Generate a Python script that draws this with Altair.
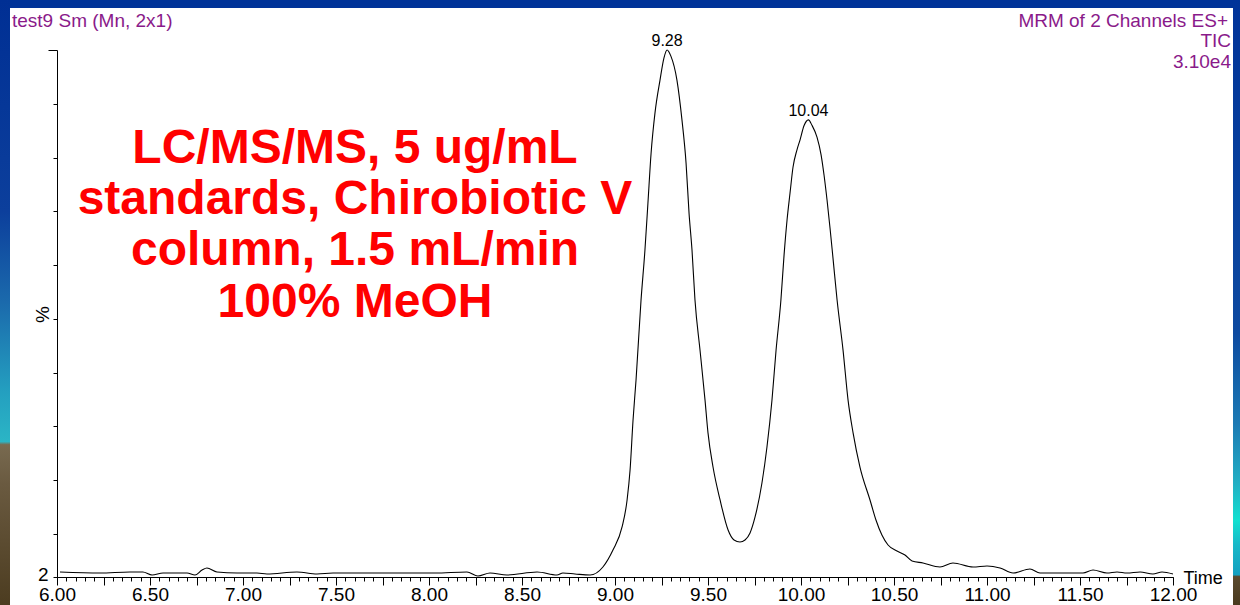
import altair as alt
import pandas as pd

# ---- chromatogram trace (retention time in min, relative intensity in %) ----
time_min = [
    6.016, 6.231, 6.392, 6.462, 6.511, 6.570, 6.699, 6.742, 6.780, 6.806,
    6.860, 6.968, 7.075, 7.129, 7.290, 7.398, 7.484, 7.645, 7.860, 8.032,
    8.204, 8.263, 8.328, 8.419, 8.581, 8.688, 8.720, 8.785, 8.866, 8.935,
    8.989, 9.038, 9.065, 9.081, 9.097, 9.113, 9.140, 9.161, 9.177, 9.194,
    9.215, 9.242, 9.263, 9.280, 9.300, 9.333, 9.360, 9.382, 9.398, 9.414,
    9.430, 9.457, 9.484, 9.500, 9.527, 9.565, 9.608, 9.640, 9.672, 9.699,
    9.726, 9.753, 9.790, 9.817, 9.844, 9.866, 9.892, 9.909, 9.925, 9.941,
    9.957, 9.978, 9.995, 10.016, 10.040, 10.059, 10.086, 10.108, 10.124, 10.140,
    10.156, 10.172, 10.194, 10.226, 10.253, 10.280, 10.317, 10.371, 10.403, 10.435,
    10.468, 10.516, 10.559, 10.597, 10.656, 10.747, 10.817, 10.925, 11.000, 11.070,
    11.140, 11.231, 11.285, 11.516, 11.570, 11.645, 11.699, 11.753, 11.823, 11.892,
    11.941, 12.000,
]
intensity_pct = [
    2.93, 2.74, 2.93, 2.93, 2.37, 2.74, 2.74, 2.37, 3.30, 3.67,
    2.93, 2.74, 2.74, 2.56, 2.93, 2.56, 2.74, 2.74, 2.74, 2.74,
    2.93, 2.19, 2.74, 2.37, 2.93, 2.37, 2.74, 2.56, 2.37, 3.86,
    7.02, 11.30, 16.32, 21.90, 31.19, 38.6, 53.5, 62.8, 71.5, 80.8,
    88.3, 94.4, 98.5, 100.0, 98.9, 94.4, 87.0, 79.0, 69.7, 62.8,
    53.5, 44.2, 34.9, 28.8, 22.45, 16.32, 10.74, 8.88, 8.51, 8.88,
    10.18, 13.16, 19.48, 26.17, 34.91, 44.2, 53.5, 61.9, 68.4, 73.4,
    78.2, 81.4, 83.3, 85.9, 87.0, 86.0, 83.8, 80.5, 76.7, 72.1,
    66.9, 61.3, 53.5, 44.2, 34.9, 28.8, 22.45, 16.32, 12.60, 9.81,
    7.95, 6.83, 6.09, 4.98, 4.60, 3.86, 4.60, 3.86, 4.05, 3.67,
    2.74, 3.49, 2.74, 2.74, 3.30, 2.74, 2.93, 2.74, 2.93, 2.56,
    2.93, 2.56,
]

# ---- annotated peak apexes ----
peak_times = [9.28, 10.04]
peak_heights = [100.0, 87.0]
peak_labels = ["9.28", "10.04"]

# ---- text content ----
header_left = "test9 Sm (Mn, 2x1)"
header_right = ["MRM of 2 Channels ES+", "TIC", "3.10e4"]
headline_lines = [
    "LC/MS/MS, 5 ug/mL",
    "standards, Chirobiotic V",
    "column, 1.5 mL/min",
    "100% MeOH",
]

# ---- axis tick positions ----
y_tick_values = [2, 10, 20, 30, 40, 50, 60, 70, 80, 90]
y_top_tick = [100]
x_minor_ticks = [round(6 + 0.05 * i, 2) for i in range(121)]
x_major_ticks = [round(6 + 0.25 * i, 2) for i in range(25)]

FONT = "Liberation Sans"
PURPLE = "#8a1a8a"
BLUE = "#003399"
W, H = 1116, 527
LEFT, TOP = 57, 50

trace = pd.DataFrame({"t": time_min, "pct": intensity_pct})
peaks = pd.DataFrame({"t": peak_times, "pct": peak_heights, "label": peak_labels})
one = pd.DataFrame({"k": [0]})


def x_scale():
    return alt.Scale(domain=[6, 12], nice=False, zero=False)


def y_scale():
    return alt.Scale(domain=[2, 100], nice=False, zero=False)


# main axes: minor ticks, labels and titles
x_axis = alt.Axis(
    orient="bottom",
    values=x_minor_ticks,
    tickSize=4,
    labelExpr="round(datum.value*100) % 50 == 0 ? format(datum.value, '.2f') : ''",
    labelOverlap=False,
    labelFlush=False,
    labelFontSize=19,
    labelPadding=4,
    grid=False,
    title="Time",
    titleX=W + 10,
    titleY=6,
    titleAlign="left",
    titleBaseline="alphabetic",
    titleFontSize=18,
    titleFontWeight="normal",
)
y_axis = alt.Axis(
    orient="left",
    values=y_tick_values,
    tickSize=4,
    labelExpr="datum.value == 2 ? '2' : ''",
    labelOverlap=False,
    labelFlush=False,
    labelFontSize=19,
    labelPadding=5,
    labelOffset=-3,
    grid=False,
    title="%",
    titleAngle=270,
    titleX=-15,
    titleY=264,
    titleAlign="center",
    titleBaseline="middle",
    titleFontSize=19,
    titleFontWeight="normal",
)

# secondary axes: longer quarter-minute ticks and the long top tick
x_axis_major = alt.Axis(
    orient="bottom", values=x_major_ticks, tickSize=8, labels=False,
    domain=False, grid=False, title=None,
)
y_axis_top = alt.Axis(
    orient="left", values=y_top_tick, tickSize=9, labels=False,
    domain=False, grid=False, title=None,
)


def frame_strip(x0, x1, y0, y1, fill):
    """Rectangle of the window frame, given in canvas pixels."""
    return alt.Chart(one).mark_rect(fill=fill).encode(
        x=alt.value(x0 - LEFT), x2=alt.value(x1 - LEFT),
        y=alt.value(y0 - TOP), y2=alt.value(y1 - TOP),
    )


left_grad = alt.Gradient(
    gradient="linear", x1=0, x2=0, y1=0, y2=1,
    stops=[
        alt.GradientStop(color="#002f94", offset=0),
        alt.GradientStop(color="#0c3f9c", offset=0.35),
        alt.GradientStop(color="#1b6aac", offset=0.5),
        alt.GradientStop(color="#24a0c0", offset=0.65),
        alt.GradientStop(color="#2bb5c5", offset=0.73),
        alt.GradientStop(color="#786a50", offset=0.735),
        alt.GradientStop(color="#6a5a40", offset=0.8),
        alt.GradientStop(color="#4c3c20", offset=1),
    ],
)
right_grad = alt.Gradient(
    gradient="linear", x1=0, x2=0, y1=0, y2=1,
    stops=[
        alt.GradientStop(color=BLUE, offset=0),
        alt.GradientStop(color="#0e4aa0", offset=0.55),
        alt.GradientStop(color="#1c7ab4", offset=0.7),
        alt.GradientStop(color="#22b0c4", offset=0.8),
        alt.GradientStop(color="#12e0d0", offset=0.86),
        alt.GradientStop(color="#18b8c8", offset=0.9),
        alt.GradientStop(color="#14a0c0", offset=0.95),
        alt.GradientStop(color="#5a4a2e", offset=0.953),
        alt.GradientStop(color="#4a3a1e", offset=1),
    ],
)

frame = [
    frame_strip(0, 1240, 0, 8, BLUE),
    frame_strip(0, 10, 0, 605, left_grad),
    frame_strip(1233, 1240, 0, 605, right_grad),
]

# ---- chromatogram ----
line = alt.Chart(trace).mark_line(
    color="black", strokeWidth=1.1, interpolate="monotone"
).encode(
    x=alt.X("t:Q", scale=x_scale(), axis=x_axis),
    y=alt.Y("pct:Q", scale=y_scale(), axis=y_axis),
)

# invisible copy carrying the extra tick axes
tick_carrier = alt.Chart(trace).mark_line(strokeOpacity=0).encode(
    x=alt.X("t:Q", scale=x_scale(), axis=x_axis_major),
    y=alt.Y("pct:Q", scale=y_scale(), axis=y_axis_top),
)

peak_text = alt.Chart(peaks).mark_text(
    font=FONT, fontSize=16, color="black", baseline="alphabetic", align="center", dy=-4
).encode(
    x=alt.X("t:Q", scale=x_scale(), axis=None),
    y=alt.Y("pct:Q", scale=y_scale(), axis=None),
    text="label:N",
)


# ---- headers ----
def header(text, x, y, align):
    return alt.Chart(one).mark_text(
        text=text, font=FONT, fontSize=19, color=PURPLE,
        align=align, baseline="alphabetic",
    ).encode(x=alt.value(x - LEFT), y=alt.value(y - TOP))


headers = [
    header(header_left, 12, 27, "left"),
    header(header_right[0], 1228, 27, "right"),
    header(header_right[1], 1231, 47, "right"),
    header(header_right[2], 1231, 68, "right"),
]

# ---- red caption ----
caption_baselines = [163, 214, 265, 317]
caption = [
    alt.Chart(one).mark_text(
        text=line_text, font=FONT, fontSize=48, fontWeight="bold",
        color="#ff0000", align="center", baseline="alphabetic",
    ).encode(x=alt.value(355 - LEFT), y=alt.value(b - TOP))
    for line_text, b in zip(headline_lines, caption_baselines)
]

chart = alt.layer(
    line, tick_carrier, peak_text, *frame, *headers, *caption
).resolve_scale(
    x="independent", y="independent"
).properties(
    width=W, height=H,
    autosize=alt.AutoSizeParams(type="none"),
    padding={"left": LEFT, "top": TOP, "right": 1240 - LEFT - W, "bottom": 605 - TOP - H},
    background="white",
).configure_view(
    stroke=None
).configure_axis(
    domainColor="black", domainWidth=1, tickColor="black", tickWidth=1,
    labelColor="black", titleColor="black", labelFont=FONT, titleFont=FONT,
)

chart.save("out.html", embed_options={"renderer": "svg", "actions": False})
